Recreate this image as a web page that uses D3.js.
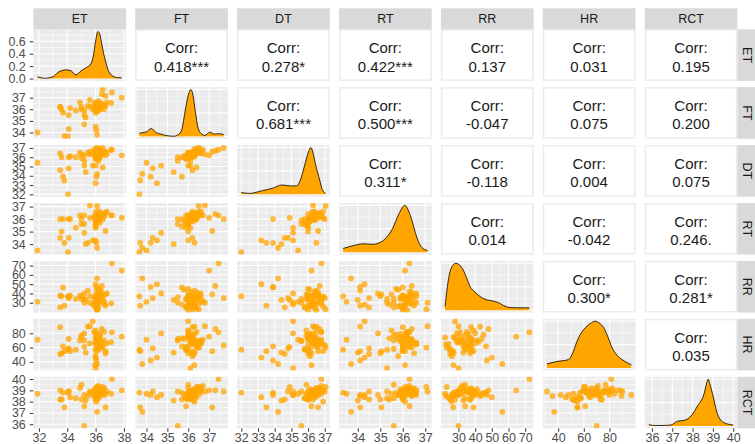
<!DOCTYPE html>
<html>
<head>
<meta charset="utf-8">
<script src="https://cdn.jsdelivr.net/npm/d3@7"></script>
<style>
  body { margin: 0; background: #fff; }
  svg { display: block; font-family: "Liberation Sans", Arial, sans-serif; }
</style>
</head>
<body>
<div id="chart"></div>
<script>
var vars = ["ET", "FT", "DT", "RT", "RR", "HR", "RCT"];

// one value per subject, same order in every array
var ET = [31.9,33.5,33.5,33.6,33.7,33.8,34.05,34.1,34.2,34.6,
  34.9,35.0,35.0,35.2,35.2,35.2,35.45,35.6,35.8,35.9,
  36.0,36.05,36.1,36.0,36.1,36.0,36.05,36.1,36.2,36.0,
  36.15,36.0,36.1,36.2,36.05,36.3,36.0,36.1,36.2,36.0,
  36.4,36.1,36.3,35.95,36.2,36.5,36.1,36.0,36.2,36.4,
  36.5,36.6,36.7,36.7,36.3,36.6,36.8,37.1,37.15,37.85,
  36.45,35.6,34.1,35.3,36.0,36.3];
var FT = [34.0,36.2,36.2,36.0,35.7,33.7,33.66,35.5,36.1,35.9,
  36.6,36.0,36.2,34.7,35.9,35.5,36.3,36.2,36.0,36.4,
  34.5,34.2,33.8,36.1,36.5,36.3,36.0,36.2,36.4,35.9,
  36.1,36.6,35.8,36.0,36.3,36.2,36.0,36.4,36.1,35.7,
  36.5,36.2,36.0,36.3,36.7,37.7,36.0,36.3,35.9,36.1,
  36.4,36.3,37.15,36.3,36.5,36.0,36.6,36.55,37.45,37.0,
  37.3,36.8,34.3,35.3,36.2,36.1];
var DT = [35.4,36.4,34.6,36.0,33.9,33.5,32.0,36.0,36.1,36.0,
  36.5,35.9,36.3,35.1,36.2,35.6,36.5,36.6,35.1,36.8,
  33.2,33.9,34.2,35.1,37.05,36.2,36.4,36.0,36.6,35.8,
  36.3,36.7,36.1,36.5,36.9,36.2,35.9,36.4,35.6,36.0,
  36.6,36.3,36.0,36.2,36.8,37.0,36.5,36.1,35.8,36.4,
  34.9,36.6,36.6,36.2,36.9,36.5,36.4,36.8,36.8,36.2,
  36.7,36.3,34.8,34.4,36.1,36.0];
var RT = [33.5,36.0,34.5,35.0,36.0,34.1,33.35,36.0,36.0,35.3,
  36.3,35.6,36.0,34.9,36.3,35.6,34.1,36.1,34.3,36.2,
  34.3,34.1,33.7,35.3,37.05,36.2,35.9,36.0,36.4,35.6,
  36.1,36.5,35.8,36.3,36.1,36.2,35.5,36.0,35.9,35.4,
  36.4,36.6,35.7,36.1,36.3,36.0,36.2,35.9,36.0,36.3,
  36.1,36.4,35.05,36.5,36.6,36.2,36.6,36.3,36.3,36.1,
  36.4,37.1,34.5,34.0,35.8,36.4];
var RR = [31,37.6,25,37,46.5,26.8,37,36,38,34,
  37.6,34,37,40,34,30,43,37,28,35,
  50,47,56.3,30,23,32,27,22.5,41,25,
  29,33,44,36,26,31,39,24,34,28,
  38,30,45,27,32,35,22,36,25,42,
  33,29,39,27,37,31,40,29.3,72.5,64.6,
  48,30,35,33,26,38];
var HR = [71,88.5,51,52,61.7,55,57,72,55,57,
  70,77,74,80,61,70,89.4,66,97,82,
  46,42,37,31.3,60,68,75,64,70,58,
  80,66,72,62,55,76,84,65,69,73,
  60,67,78,35.5,71,63,74,79,57,68,
  61,70,55,52,64,82,66,67.6,81.4,75.4,
  86,90,59,53,48,72];
var RCT = [38.7,39.0,38.2,38.2,38.8,37.5,38.8,38.9,38.4,38.3,
  39.2,39.5,38.2,38.6,37.6,35.85,38.5,38.8,38.6,39.0,
  38.4,38.6,37.1,38.9,39.3,38.7,38.8,38.5,39.1,38.3,
  38.9,39.2,38.6,38.8,38.0,39.0,38.7,38.4,38.9,38.2,
  39.0,38.6,38.8,38.5,39.4,38.9,38.7,39.1,38.3,38.8,
  39.3,38.6,37.5,38.7,39.0,39.2,38.9,38.7,40.0,39.0,
  39.0,38.9,38.9,38.1,38.6,38.5];

// axis tick labels
var ticksET = [32, 34, 36, 38];
var ticksFT = [34, 35, 36, 37];
var ticksDT = [32, 33, 34, 35, 36, 37];
var ticksRT = [34, 35, 36, 37];
var ticksRR = [30, 40, 50, 60, 70];
var ticksHR = [40, 60, 80];
var ticksRCT = [36, 37, 38, 39, 40];
var densTicksET = [0, 0.2, 0.4, 0.6];

// density curves (ET in density units, others relative)
var densET = [[31.9,0.03],[32.4,0.005],[33.0,0.03],[33.35,0.1],[33.94,0.14],[34.3,0.12],
  [34.6,0.06],[35.0,0.13],[35.3,0.17],[35.7,0.25],[35.85,0.38],[36.0,0.6],[36.15,0.755],
  [36.25,0.74],[36.4,0.6],[36.55,0.42],[36.7,0.28],[36.9,0.13],[37.1,0.06],[37.5,0.015],[37.85,0.01]];
var densFT = [[33.66,0.07],[34.0,0.1],[34.23,0.17],[34.46,0.08],[34.7,0.05],[34.93,0.02],
  [35.32,0.005],[35.55,0.05],[35.68,0.13],[35.86,0.56],[36.0,0.88],[36.12,1.0],[36.22,0.9],
  [36.33,0.56],[36.48,0.17],[36.65,0.05],[36.79,0.02],[37.03,0.09],[37.26,0.05],[37.45,0.06],[37.7,0.04]];
var densDT = [[32.0,0.04],[32.49,0.02],[33.27,0.08],[33.86,0.13],[34.44,0.2],[34.94,0.18],
  [35.33,0.18],[35.53,0.3],[35.82,0.65],[36.0,0.88],[36.17,1.0],[36.3,0.88],[36.44,0.65],
  [36.7,0.3],[36.85,0.1],[37.05,0.02]];
var densRT = [[33.35,0.08],[33.79,0.14],[34.23,0.18],[34.67,0.17],[35.1,0.24],[35.54,0.5],
  [35.83,0.82],[36.09,1.0],[36.34,0.78],[36.63,0.31],[36.85,0.1],[37.1,0.04]];
var densRR = [[22,0.08],[23,0.4],[24.5,0.75],[26.5,0.95],[28.5,1.0],[30.5,0.97],[32.5,0.88],
  [35,0.68],[37,0.5],[40,0.38],[43,0.29],[47,0.22],[50,0.2],[54,0.16],[57,0.1],[60,0.06],
  [65,0.05],[72.5,0.05]];
var densHR = [[31.3,0.09],[39,0.14],[48.1,0.18],[51,0.3],[54.7,0.57],[58,0.75],[61.2,0.86],
  [65,0.95],[69,1.0],[72,0.96],[75.5,0.86],[79,0.65],[82.1,0.43],[86,0.27],[89.9,0.18],
  [94,0.11],[97,0.07]];
var densRCT = [[35.85,0.03],[36.11,0.01],[36.5,0.01],[36.93,0.02],[37.26,0.1],[37.59,0.12],
  [37.92,0.21],[38.25,0.43],[38.57,0.69],[38.7,0.92],[38.77,1.0],[38.85,0.9],[38.98,0.69],
  [39.23,0.25],[39.55,0.07],[40.0,0.02]];

// correlation labels, upper triangle, row by row
var corrET = ["0.418***", "0.278*", "0.422***", "0.137", "0.031", "0.195"];
var corrFT = ["0.681***", "0.500***", "-0.047", "0.075", "0.200"];
var corrDT = ["0.311*", "-0.118", "0.004", "0.075"];
var corrRT = ["0.014", "-0.042", "0.246."];
var corrRR = ["0.300*", "0.281*"];
var corrHR = ["0.035"];

var values = {ET: ET, FT: FT, DT: DT, RT: RT, RR: RR, HR: HR, RCT: RCT};
var ticks = {ET: ticksET, FT: ticksFT, DT: ticksDT, RT: ticksRT, RR: ticksRR, HR: ticksHR, RCT: ticksRCT};
var dens = {ET: densET, FT: densFT, DT: densDT, RT: densRT, RR: densRR, HR: densHR, RCT: densRCT};
var corr = [corrET, corrFT, corrDT, corrRT, corrRR, corrHR];

var svg = d3.select("#chart").append("svg")
  .attr("width", 755)
  .attr("height", 444);

var cols = d3.scaleBand().domain(vars).range([33.3, 737.4]).paddingInner(0.09);
var rows = d3.scaleBand().domain(vars).range([29.3, 428.3]).paddingInner(0.109);
var pw = cols.bandwidth(), ph = rows.bandwidth();

// ggplot style 5% expansion
function pad(ext) {
  var d = ext[1] - ext[0];
  return [ext[0] - d * 0.05, ext[1] + d * 0.05];
}

function minors(major, dom) {
  var s = major[1] - major[0], out = [];
  for (var t = major[0] - s / 2; t <= major[major.length - 1] + s / 2 + 1e-9; t += s) {
    if (t >= dom[0] && t <= dom[1]) out.push(t);
  }
  return out;
}

function inside(arr, dom) {
  return arr.filter(function(t) { return t >= dom[0] && t <= dom[1]; });
}

var x = {}, y = {}, dy = {};
vars.forEach(function(v) {
  var dom = pad(d3.extent(values[v]));
  x[v] = d3.scaleLinear().domain(dom).range([cols(v), cols(v) + pw]);
  y[v] = d3.scaleLinear().domain(dom).range([rows(v) + ph, rows(v)]);
  var top = d3.max(dens[v], function(d) { return d[1]; });
  dy[v] = d3.scaleLinear().domain(pad([0, top])).range([rows(v) + ph, rows(v)]);
});

var defs = svg.append("defs");

vars.forEach(function(rv, i) {
  vars.forEach(function(cv, j) {
    var px = cols(cv), py = rows(rv);
    var g = svg.append("g");

    // upper triangle: correlation text
    if (j > i) {
      g.append("rect")
        .attr("x", px + 0.75).attr("y", py + 0.75)
        .attr("width", pw - 1.5).attr("height", ph - 1.5)
        .attr("fill", "#fff")
        .attr("stroke", "#ebebeb")
        .attr("stroke-width", 1.5);
      g.append("text")
        .attr("x", px + pw / 2).attr("y", py + ph / 2 - 7.5)
        .attr("text-anchor", "middle")
        .attr("dominant-baseline", "central")
        .attr("font-size", "15px")
        .attr("fill", "#1a1a1a")
        .text("Corr:");
      g.append("text")
        .attr("x", px + pw / 2).attr("y", py + ph / 2 + 11)
        .attr("text-anchor", "middle")
        .attr("dominant-baseline", "central")
        .attr("font-size", "15px")
        .attr("fill", "#1a1a1a")
        .text(corr[i][j - i - 1]);
      return;
    }

    var clipId = "clip-" + i + "-" + j;
    defs.append("clipPath").attr("id", clipId)
      .append("rect").attr("x", px).attr("y", py).attr("width", pw).attr("height", ph);

    g.append("rect")
      .attr("x", px).attr("y", py)
      .attr("width", pw).attr("height", ph)
      .attr("fill", "#ebebeb");

    var ys = i == j ? dy[cv] : y[rv];
    var yMajor = i == j ? (i == 0 ? densTicksET : dy[cv].ticks(3)) : ticks[rv];
    var xd = x[cv].domain(), yd = ys.domain();

    // grid
    var grid = g.append("g").attr("stroke", "#fff");
    minors(ticks[cv], xd).forEach(function(t) {
      grid.append("line").attr("x1", x[cv](t)).attr("x2", x[cv](t))
        .attr("y1", py).attr("y2", py + ph).attr("stroke-width", 0.55);
    });
    minors(yMajor, yd).forEach(function(t) {
      grid.append("line").attr("y1", ys(t)).attr("y2", ys(t))
        .attr("x1", px).attr("x2", px + pw).attr("stroke-width", 0.55);
    });
    inside(ticks[cv], xd).forEach(function(t) {
      grid.append("line").attr("x1", x[cv](t)).attr("x2", x[cv](t))
        .attr("y1", py).attr("y2", py + ph).attr("stroke-width", 1.1);
    });
    inside(yMajor, yd).forEach(function(t) {
      grid.append("line").attr("y1", ys(t)).attr("y2", ys(t))
        .attr("x1", px).attr("x2", px + pw).attr("stroke-width", 1.1);
    });

    var body = g.append("g").attr("clip-path", "url(#" + clipId + ")");

    if (i == j) {
      // density on the diagonal
      var area = d3.area()
        .x(function(d) { return x[cv](d[0]); })
        .y0(ys(0))
        .y1(function(d) { return ys(d[1]); })
        .curve(d3.curveMonotoneX);
      var line = d3.line()
        .x(function(d) { return x[cv](d[0]); })
        .y(function(d) { return ys(d[1]); })
        .curve(d3.curveMonotoneX);
      body.append("path").datum(dens[cv]).attr("d", area).attr("fill", "#ffa500");
      body.append("path").datum(dens[cv]).attr("d", line)
        .attr("fill", "none").attr("stroke", "#000").attr("stroke-width", 0.8);
    } else {
      body.selectAll("circle")
        .data(d3.range(values[cv].length))
        .enter().append("circle")
        .attr("cx", function(k) { return x[cv](values[cv][k]); })
        .attr("cy", function(k) { return y[rv](values[rv][k]); })
        .attr("r", 2.9)
        .attr("fill", "#ffa500")
        .attr("fill-opacity", 0.75);
    }
  });
});

// left axes
vars.forEach(function(v, i) {
  var sc = i == 0 ? dy.ET : y[v];
  var tv = i == 0 ? densTicksET : ticks[v];
  var fmt = i == 0 ? d3.format(".1f") : d3.format("d");
  svg.append("g")
    .attr("class", "axis")
    .attr("transform", "translate(" + cols("ET") + ",0)")
    .call(d3.axisLeft(sc).tickValues(tv).tickSize(3.5).tickPadding(4).tickFormat(fmt));
});

// bottom axes
vars.forEach(function(v) {
  svg.append("g")
    .attr("class", "axis")
    .attr("transform", "translate(0," + (rows("RCT") + ph) + ")")
    .call(d3.axisBottom(x[v]).tickValues(ticks[v]).tickSize(3.5).tickPadding(1.5).tickFormat(d3.format("d")));
});

svg.selectAll(".axis .domain").remove();
svg.selectAll(".axis line").attr("stroke", "#333").attr("stroke-width", 1);
svg.selectAll(".axis text")
  .attr("fill", "#4d4d4d")
  .attr("font-size", "12.5px")
  .attr("font-family", "'Liberation Sans', Arial, sans-serif");

// strips on top
vars.forEach(function(v) {
  svg.append("rect")
    .attr("x", cols(v)).attr("y", 8.3)
    .attr("width", pw).attr("height", 21)
    .attr("fill", "#d9d9d9");
  svg.append("text")
    .attr("x", cols(v) + pw / 2).attr("y", 18.8)
    .attr("text-anchor", "middle")
    .attr("dominant-baseline", "central")
    .attr("font-size", "12.5px")
    .attr("fill", "#1a1a1a")
    .text(v);
});

// strips on the right
var sx = cols("RCT") + pw;
vars.forEach(function(v) {
  svg.append("rect")
    .attr("x", sx).attr("y", rows(v))
    .attr("width", 20).attr("height", ph)
    .attr("fill", "#d9d9d9");
  svg.append("text")
    .attr("transform", "translate(" + (sx + 9.5) + "," + (rows(v) + ph / 2) + ") rotate(90)")
    .attr("text-anchor", "middle")
    .attr("dominant-baseline", "central")
    .attr("font-size", "12.5px")
    .attr("fill", "#1a1a1a")
    .text(v);
});
</script>
</body>
</html>
